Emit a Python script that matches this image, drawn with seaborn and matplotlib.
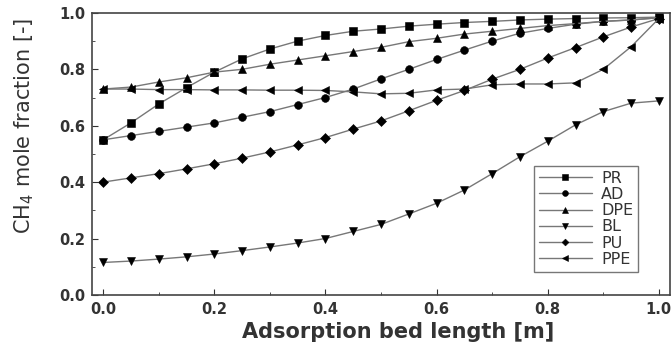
import numpy as np
import pandas as pd
import matplotlib
matplotlib.use("Agg")
import matplotlib.pyplot as plt
from matplotlib.ticker import MultipleLocator
import seaborn as sns

# bed positions [m]
length = [0.0, 0.05, 0.1, 0.15, 0.2, 0.25, 0.3, 0.35, 0.4, 0.45, 0.5,
          0.55, 0.6, 0.65, 0.7, 0.75, 0.8, 0.85, 0.9, 0.95, 1.0]

pr = [0.55, 0.61, 0.677, 0.735, 0.79, 0.837, 0.872, 0.90, 0.92, 0.935, 0.943,
      0.953, 0.96, 0.966, 0.97, 0.975, 0.978, 0.98, 0.982, 0.983, 0.985]
ad = [0.55, 0.565, 0.58, 0.595, 0.61, 0.63, 0.65, 0.675, 0.70, 0.73, 0.766,
      0.80, 0.835, 0.868, 0.90, 0.928, 0.945, 0.96, 0.97, 0.975, 0.983]
dpe = [0.73, 0.737, 0.755, 0.77, 0.79, 0.80, 0.818, 0.833, 0.848, 0.863, 0.878,
       0.898, 0.91, 0.925, 0.935, 0.945, 0.955, 0.962, 0.97, 0.975, 0.983]
bl = [0.115, 0.12, 0.127, 0.135, 0.145, 0.157, 0.17, 0.184, 0.20, 0.225, 0.25,
      0.287, 0.325, 0.372, 0.43, 0.49, 0.545, 0.603, 0.65, 0.68, 0.688]
pu = [0.40, 0.415, 0.43, 0.447, 0.465, 0.485, 0.507, 0.532, 0.558, 0.588, 0.617,
      0.653, 0.69, 0.725, 0.765, 0.80, 0.84, 0.877, 0.915, 0.95, 0.98]
ppe = [0.73, 0.73, 0.728, 0.728, 0.727, 0.727, 0.726, 0.726, 0.725, 0.72, 0.713,
       0.715, 0.727, 0.73, 0.745, 0.748, 0.748, 0.752, 0.80, 0.88, 0.98]

names = ["PR", "AD", "DPE", "BL", "PU", "PPE"]
series = [pr, ad, dpe, bl, pu, ppe]
marks = {"PR": "s", "AD": "o", "DPE": "^", "BL": "v", "PU": "D", "PPE": "<"}

df = pd.concat([pd.DataFrame({"x": length, "y": s, "sample": n})
                for n, s in zip(names, series)])

sns.set_style("ticks")
plt.rcParams["font.family"] = ["DejaVu Sans"]

fig = plt.figure(figsize=(6.72, 3.49), dpi=100)
ax = fig.add_axes([0.137, 0.155, 0.86, 0.808])

sns.lineplot(data=df, x="x", y="y", hue="sample", style="sample",
             palette=["#777777"] * 6, markers=marks, dashes=False,
             markersize=5.6, linewidth=1.0, markerfacecolor="black",
             markeredgecolor="black", markeredgewidth=0.4, legend=False, ax=ax)
# diamonds come out bigger than the rest
for ln in ax.lines:
    if ln.get_marker() == "D":
        ln.set_markersize(4.6)

ax.set_xlim(-0.02, 1.02)
ax.set_ylim(0, 1.0)
ax.xaxis.set_major_locator(MultipleLocator(0.2))
ax.xaxis.set_minor_locator(MultipleLocator(0.1))
ax.yaxis.set_major_locator(MultipleLocator(0.2))
ax.yaxis.set_minor_locator(MultipleLocator(0.1))
ax.tick_params(which="both", direction="in", colors="#333333", labelcolor="#333333")
ax.tick_params(which="major", length=4, labelsize=10.5, pad=5)
ax.tick_params(which="minor", length=2.5)
for lab in ax.get_xticklabels() + ax.get_yticklabels():
    lab.set_fontweight("bold")
for sp in ax.spines.values():
    sp.set_visible(True)
    sp.set_color("#444444")
    sp.set_linewidth(1.2)

ax.set_xlabel("Adsorption bed length [m]", fontsize=15, fontweight="bold",
              color="#333333")
ax.xaxis.set_label_coords(0.53, -0.095)
ax.set_ylabel("CH$_4$ mole fraction [-]", fontsize=15, color="#333333",
              family=["Liberation Sans Narrow", "DejaVu Sans"])
ax.yaxis.set_label_coords(-0.097, 0.60)

leg = ax.legend(handles=ax.lines[:6], labels=names, loc="lower right",
                bbox_to_anchor=(0.945, 0.082), borderaxespad=0, frameon=True,
                fancybox=False, fontsize=11.5, handlelength=3.3,
                labelspacing=0.08, borderpad=0.3, handletextpad=0.6,
                markerscale=0.75)
leg.get_frame().set_edgecolor("#555555")
leg.get_frame().set_linewidth(1.0)
for t in leg.get_texts():
    t.set_color("#333333")

fig.savefig("out.png", dpi=100)
